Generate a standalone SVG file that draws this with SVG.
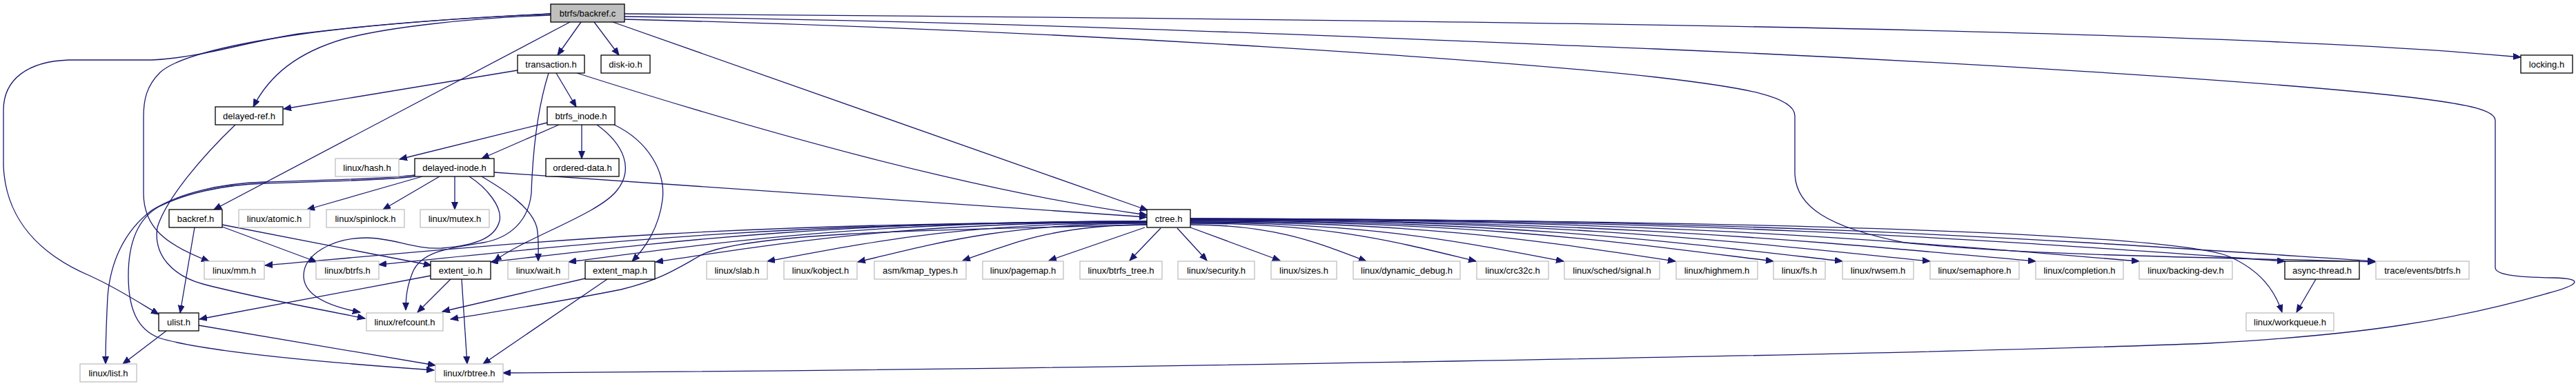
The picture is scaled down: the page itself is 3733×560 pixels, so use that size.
<svg xmlns="http://www.w3.org/2000/svg" width="3733" height="560" viewBox="0 0 3733 560">
<style>
rect{fill:#fff;stroke-width:1.3}
.n rect{stroke:#000}
.g rect{stroke:#bfbfbf}
.r rect{fill:#bfbfbf;stroke:#000}
text{font-family:"Liberation Sans",Arial,sans-serif;font-size:13px;text-anchor:middle;fill:#000}
#edges path{fill:none;stroke:#191970;stroke-width:1.3;marker-end:url(#ah)}
</style>
<defs>
<marker id="ah" markerUnits="userSpaceOnUse" markerWidth="12" markerHeight="10" refX="11" refY="4.5" orient="auto">
<path d="M0,0 L11,4.5 L0,9 z" fill="#191970" stroke="#191970" stroke-width="1"/>
</marker>
</defs>
<rect x="0" y="0" width="3733" height="560" style="fill:#fff;stroke:none"/>
<g id="edges">
<!-- backref.c -->
<path d="M842,32 L808,80"/>
<path d="M861,32 L897,80"/>
<path d="M826,32 L310,304"/>
<path d="M888,32 L1663,305"/>
<path d="M798,22 C680,26 560,40 500,56 C430,76 390,110 367,155"/>
<path d="M798,20 C650,27 520,38 433,49 C360,60 290,84 220,87 L100,87 C40,89 5,115 5,160 L5,240 C8,320 60,370 130,400 C170,418 200,438 230,456"/>
<path d="M798,20 C650,27 520,38 433,50 C350,62 260,80 232,105 C212,125 208,145 208,170 L208,280 C208,330 240,355 303,379"/>
<path d="M905,20 C2000,28 3200,40 3653,83"/>
<path d="M905,24 C1500,32 2000,55 2400,71 C2800,88 3300,118 3500,142 C3580,152 3616,160 3616,175 L3616,388 C3616,398 3640,402 3700,403 C3745,404 3740,413 3690,426 C3550,466 3420,486 3200,498 C2800,514 1500,537 729,541"/>
<path d="M905,28 C1600,45 2200,90 2400,112 C2530,127 2601,140 2601,168 L2601,250 C2601,300 2650,330 2760,352 C2950,372 3250,374 3442,380"/>
<!-- transaction.h -->
<path d="M806,106 L835,155"/>
<path d="M750,102 L411,158"/>
<path d="M836,106 C1100,190 1400,275 1662,312"/>
<path d="M795,106 C778,160 772,220 770,280 C766,320 740,345 700,352 C650,360 610,365 598,395 C590,415 588,430 588,450"/>
<!-- btrfs_inode.h -->
<path d="M793,178 L579,231"/>
<path d="M810,181 L698,230"/>
<path d="M843,181 L843,230"/>
<path d="M865,181 C905,210 918,245 895,275 C870,310 760,345 716,379"/>
<path d="M890,181 C940,205 965,250 960,290 C955,330 935,360 916,379"/>
<!-- delayed-ref.h -->
<path d="M341,181 C290,230 240,290 228,330 C222,370 250,400 294,412 C370,432 450,446 529,462"/>
<!-- delayed-inode.h -->
<path d="M601,254 C560,260 440,262 384,264 C320,266 260,280 220,305 C180,335 160,380 156,430 C154,470 153,500 153,528"/>
<path d="M601,256 C560,262 440,264 384,266 C320,268 265,282 230,300 C195,320 186,360 186,400 C186,450 200,478 230,490 C300,512 500,528 629,537"/>
<path d="M612,256 L445,304"/>
<path d="M637,256 L555,304"/>
<path d="M659,256 L659,304"/>
<path d="M698,256 C730,275 770,300 778,330 C781,345 780,360 780,379"/>
<path d="M716,250 L1662,315"/>
<path d="M680,256 C705,272 728,300 724,320 C718,345 690,356 640,360 C600,362 570,345 531,345 C480,345 440,370 440,400 C440,430 480,445 522,453"/>
<!-- backref.h -->
<path d="M282,330 L261,454"/>
<path d="M322,329 L459,380"/>
<path d="M322,326 L625,385"/>
<!-- ctree.h -->
<path d="M1662,322 C1023,322 703,357 384,385"/>
<path d="M1662,322 C1105,322 827,356 549,384"/>
<path d="M1662,321 C1186,321 949,353 711,380"/>
<path d="M1662,321 C1243,321 1033,353 824,380"/>
<path d="M1662,322 C1306,322 1128,354 950,380"/>
<path d="M1662,323 C1387,323 1249,354 1112,379"/>
<path d="M1662,324 C1452,324 1348,355 1243,380"/>
<path d="M1662,326 C1528,326 1462,355 1395,378"/>
<path d="M1659,330 L1520,378"/>
<path d="M1682,331 L1637,378"/>
<path d="M1706,331 L1749,378"/>
<path d="M1725,330 L1855,378"/>
<path d="M1725,326 C1852,326 1916,355 1980,379"/>
<path d="M1725,324 C1932,324 2035,354 2139,379"/>
<path d="M1725,323 C1995,323 2131,354 2266,379"/>
<path d="M1725,322 C2076,322 2252,353 2428,379"/>
<path d="M1725,321 C2147,321 2359,353 2570,379"/>
<path d="M1725,320 C2197,320 2434,352 2670,379"/>
<path d="M1725,319 C2261,319 2529,352 2797,379"/>
<path d="M1725,319 C2337,319 2644,352 2950,379"/>
<path d="M1725,318 C2412,318 2756,351 3100,379"/>
<path d="M1725,318 C2518,318 2914,351 3311,379"/>
<path d="M1725,317 C2583,317 3013,351 3442,379"/>
<path d="M1725,317 C2600,320 3150,340 3230,372 C3275,392 3296,420 3307,453"/>
<path d="M1662,326 C1400,333 1100,335 1020,368 C980,390 960,405 900,420 C800,440 700,455 653,463"/>
<!-- extent_io.h -->
<path d="M624,400 L289,463"/>
<path d="M653,405 L605,453"/>
<path d="M669,405 L677,528"/>
<!-- extent_map.h -->
<path d="M848,404 L641,452"/>
<path d="M880,405 L700,528"/>
<!-- ulist.h -->
<path d="M241,480 L178,528"/>
<path d="M288,472 L631,530"/>
<!-- async-thread.h -->
<path d="M3356,405 L3328,453"/>
</g>
<g id="n_root" class="r"><rect x="798" y="6" width="107" height="26"/><text x="851.5" y="23.8">btrfs/backref.c</text></g>
<g id="n_transaction" class="n"><rect x="750" y="80" width="97" height="26"/><text x="798.5" y="97.8">transaction.h</text></g>
<g id="n_diskio" class="n"><rect x="871" y="80" width="71" height="26"/><text x="906.5" y="97.8">disk-io.h</text></g>
<g id="n_locking" class="n"><rect x="3653" y="80" width="75" height="26"/><text x="3690.5" y="97.8">locking.h</text></g>
<g id="n_delayedref" class="n"><rect x="312" y="155" width="98" height="26"/><text x="361" y="172.8">delayed-ref.h</text></g>
<g id="n_btrfsinode" class="n"><rect x="793" y="155" width="98" height="26"/><text x="842" y="172.8">btrfs_inode.h</text></g>
<g id="n_hash" class="g"><rect x="486" y="230" width="92" height="26"/><text x="532" y="247.8">linux/hash.h</text></g>
<g id="n_delayedinode" class="n"><rect x="601" y="230" width="115" height="26"/><text x="658.5" y="247.8">delayed-inode.h</text></g>
<g id="n_ordered" class="n"><rect x="791" y="230" width="106" height="26"/><text x="844" y="247.8">ordered-data.h</text></g>
<g id="n_backrefh" class="n"><rect x="245" y="304" width="77" height="26"/><text x="283.5" y="321.8">backref.h</text></g>
<g id="n_atomic" class="g"><rect x="346" y="304" width="103" height="26"/><text x="397.5" y="321.8">linux/atomic.h</text></g>
<g id="n_spinlock" class="g"><rect x="473" y="304" width="113" height="26"/><text x="529.5" y="321.8">linux/spinlock.h</text></g>
<g id="n_mutex" class="g"><rect x="609" y="304" width="100" height="26"/><text x="659" y="321.8">linux/mutex.h</text></g>
<g id="n_ctree" class="n"><rect x="1662" y="304" width="63" height="26"/><text x="1693.5" y="321.8">ctree.h</text></g>
<g id="n_mm" class="g"><rect x="296" y="379" width="87" height="26"/><text x="339.5" y="396.8">linux/mm.h</text></g>
<g id="n_lbtrfs" class="g"><rect x="458" y="379" width="91" height="26"/><text x="503.5" y="396.8">linux/btrfs.h</text></g>
<g id="n_extentio" class="n"><rect x="624" y="379" width="87" height="26"/><text x="667.5" y="396.8">extent_io.h</text></g>
<g id="n_wait" class="g"><rect x="736" y="379" width="88" height="26"/><text x="780" y="396.8">linux/wait.h</text></g>
<g id="n_extentmap" class="n"><rect x="848" y="379" width="101" height="26"/><text x="898.5" y="396.8">extent_map.h</text></g>
<g id="n_slab" class="g"><rect x="1024" y="379" width="88" height="26"/><text x="1068" y="396.8">linux/slab.h</text></g>
<g id="n_kobject" class="g"><rect x="1136" y="379" width="106" height="26"/><text x="1189" y="396.8">linux/kobject.h</text></g>
<g id="n_kmap" class="g"><rect x="1267" y="379" width="133" height="26"/><text x="1333.5" y="396.8">asm/kmap_types.h</text></g>
<g id="n_pagemap" class="g"><rect x="1424" y="379" width="117" height="26"/><text x="1482.5" y="396.8">linux/pagemap.h</text></g>
<g id="n_btrfstree" class="g"><rect x="1565" y="379" width="119" height="26"/><text x="1624.5" y="396.8">linux/btrfs_tree.h</text></g>
<g id="n_security" class="g"><rect x="1707" y="379" width="111" height="26"/><text x="1762.5" y="396.8">linux/security.h</text></g>
<g id="n_sizes" class="g"><rect x="1842" y="379" width="95" height="26"/><text x="1889.5" y="396.8">linux/sizes.h</text></g>
<g id="n_dyndbg" class="g"><rect x="1961" y="379" width="155" height="26"/><text x="2038.5" y="396.8">linux/dynamic_debug.h</text></g>
<g id="n_crc32c" class="g"><rect x="2140" y="379" width="104" height="26"/><text x="2192" y="396.8">linux/crc32c.h</text></g>
<g id="n_signal" class="g"><rect x="2267" y="379" width="138" height="26"/><text x="2336" y="396.8">linux/sched/signal.h</text></g>
<g id="n_highmem" class="g"><rect x="2429" y="379" width="118" height="26"/><text x="2488" y="396.8">linux/highmem.h</text></g>
<g id="n_fs" class="g"><rect x="2570" y="379" width="75" height="26"/><text x="2607.5" y="396.8">linux/fs.h</text></g>
<g id="n_rwsem" class="g"><rect x="2670" y="379" width="103" height="26"/><text x="2721.5" y="396.8">linux/rwsem.h</text></g>
<g id="n_semaphore" class="g"><rect x="2797" y="379" width="129" height="26"/><text x="2861.5" y="396.8">linux/semaphore.h</text></g>
<g id="n_completion" class="g"><rect x="2950" y="379" width="127" height="26"/><text x="3013.5" y="396.8">linux/completion.h</text></g>
<g id="n_backingdev" class="g"><rect x="3100" y="379" width="135" height="26"/><text x="3167.5" y="396.8">linux/backing-dev.h</text></g>
<g id="n_async" class="n"><rect x="3311" y="379" width="108" height="26"/><text x="3365" y="396.8">async-thread.h</text></g>
<g id="n_trace" class="g"><rect x="3443" y="379" width="135" height="26"/><text x="3510.5" y="396.8">trace/events/btrfs.h</text></g>
<g id="n_ulist" class="n"><rect x="230" y="454" width="58" height="26"/><text x="259" y="471.8">ulist.h</text></g>
<g id="n_refcount" class="g"><rect x="531" y="454" width="111" height="26"/><text x="586.5" y="471.8">linux/refcount.h</text></g>
<g id="n_workqueue" class="g"><rect x="3255" y="454" width="127" height="26"/><text x="3318.5" y="471.8">linux/workqueue.h</text></g>
<g id="n_list" class="g"><rect x="116" y="528" width="82" height="26"/><text x="157" y="545.8">linux/list.h</text></g>
<g id="n_rbtree" class="g"><rect x="631" y="528" width="98" height="26"/><text x="680" y="545.8">linux/rbtree.h</text></g>
</svg>
